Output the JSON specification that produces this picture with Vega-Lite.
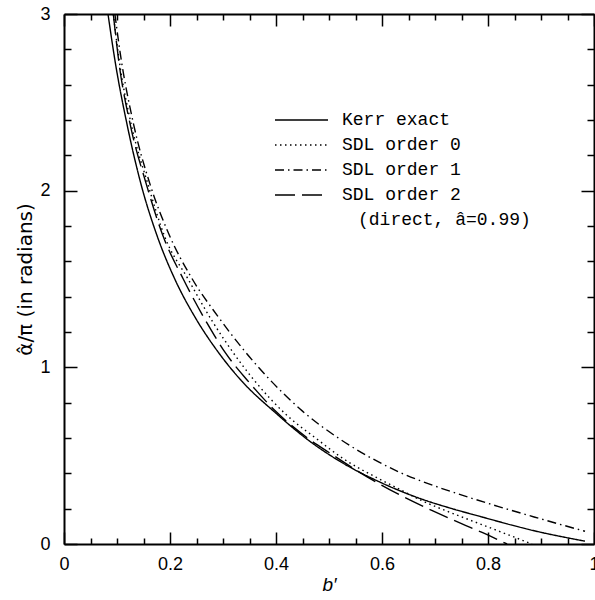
{
  "$schema": "https://vega.github.io/schema/vega-lite/v6.json",
  "width": 530,
  "height": 530,
  "autosize": {"type": "none"},
  "padding": {"left": 64, "top": 14, "right": 1, "bottom": 56},
  "background": "white",
  "config": {"view": {"stroke": null}, "font": "Liberation Sans"},
  "data": {
    "values": [
      {"series": "Kerr exact", "b": 0.083, "v": 3.0},
      {"series": "Kerr exact", "b": 0.096, "v": 2.74},
      {"series": "Kerr exact", "b": 0.12, "v": 2.36},
      {"series": "Kerr exact", "b": 0.145, "v": 2.04},
      {"series": "Kerr exact", "b": 0.175, "v": 1.75},
      {"series": "Kerr exact", "b": 0.209, "v": 1.5},
      {"series": "Kerr exact", "b": 0.25, "v": 1.27},
      {"series": "Kerr exact", "b": 0.29, "v": 1.09},
      {"series": "Kerr exact", "b": 0.333, "v": 0.93},
      {"series": "Kerr exact", "b": 0.4, "v": 0.74},
      {"series": "Kerr exact", "b": 0.46, "v": 0.59},
      {"series": "Kerr exact", "b": 0.521, "v": 0.467},
      {"series": "Kerr exact", "b": 0.6, "v": 0.345},
      {"series": "Kerr exact", "b": 0.677, "v": 0.252},
      {"series": "Kerr exact", "b": 0.73, "v": 0.202},
      {"series": "Kerr exact", "b": 0.785, "v": 0.156},
      {"series": "Kerr exact", "b": 0.887, "v": 0.075},
      {"series": "Kerr exact", "b": 0.983, "v": 0.016},
      {"series": "SDL order 0", "b": 0.093, "v": 3.0},
      {"series": "SDL order 0", "b": 0.104, "v": 2.74},
      {"series": "SDL order 0", "b": 0.128, "v": 2.36},
      {"series": "SDL order 0", "b": 0.158, "v": 2.04},
      {"series": "SDL order 0", "b": 0.19, "v": 1.74},
      {"series": "SDL order 0", "b": 0.234, "v": 1.5},
      {"series": "SDL order 0", "b": 0.28, "v": 1.26},
      {"series": "SDL order 0", "b": 0.32, "v": 1.08},
      {"series": "SDL order 0", "b": 0.358, "v": 0.93},
      {"series": "SDL order 0", "b": 0.42, "v": 0.73},
      {"series": "SDL order 0", "b": 0.479, "v": 0.59},
      {"series": "SDL order 0", "b": 0.521, "v": 0.495},
      {"series": "SDL order 0", "b": 0.6, "v": 0.36},
      {"series": "SDL order 0", "b": 0.638, "v": 0.302},
      {"series": "SDL order 0", "b": 0.672, "v": 0.25},
      {"series": "SDL order 0", "b": 0.73, "v": 0.177},
      {"series": "SDL order 0", "b": 0.79, "v": 0.108},
      {"series": "SDL order 0", "b": 0.84, "v": 0.05},
      {"series": "SDL order 0", "b": 0.883, "v": 0.0},
      {"series": "SDL order 1", "b": 0.096, "v": 3.0},
      {"series": "SDL order 1", "b": 0.106, "v": 2.78},
      {"series": "SDL order 1", "b": 0.131, "v": 2.38},
      {"series": "SDL order 1", "b": 0.163, "v": 2.03},
      {"series": "SDL order 1", "b": 0.197, "v": 1.76},
      {"series": "SDL order 1", "b": 0.242, "v": 1.5},
      {"series": "SDL order 1", "b": 0.29, "v": 1.29},
      {"series": "SDL order 1", "b": 0.34, "v": 1.095},
      {"series": "SDL order 1", "b": 0.39, "v": 0.925},
      {"series": "SDL order 1", "b": 0.45, "v": 0.752},
      {"series": "SDL order 1", "b": 0.521, "v": 0.593},
      {"series": "SDL order 1", "b": 0.58, "v": 0.486},
      {"series": "SDL order 1", "b": 0.634, "v": 0.405},
      {"series": "SDL order 1", "b": 0.7, "v": 0.328},
      {"series": "SDL order 1", "b": 0.762, "v": 0.266},
      {"series": "SDL order 1", "b": 0.82, "v": 0.212},
      {"series": "SDL order 1", "b": 0.887, "v": 0.153},
      {"series": "SDL order 1", "b": 0.983, "v": 0.072},
      {"series": "SDL order 2", "b": 0.093, "v": 3.0},
      {"series": "SDL order 2", "b": 0.103, "v": 2.74},
      {"series": "SDL order 2", "b": 0.126, "v": 2.36},
      {"series": "SDL order 2", "b": 0.155, "v": 2.04},
      {"series": "SDL order 2", "b": 0.186, "v": 1.75},
      {"series": "SDL order 2", "b": 0.225, "v": 1.5},
      {"series": "SDL order 2", "b": 0.27, "v": 1.25},
      {"series": "SDL order 2", "b": 0.305, "v": 1.08},
      {"series": "SDL order 2", "b": 0.345, "v": 0.93},
      {"series": "SDL order 2", "b": 0.4, "v": 0.75},
      {"series": "SDL order 2", "b": 0.464, "v": 0.59},
      {"series": "SDL order 2", "b": 0.5, "v": 0.518},
      {"series": "SDL order 2", "b": 0.572, "v": 0.38},
      {"series": "SDL order 2", "b": 0.634, "v": 0.277},
      {"series": "SDL order 2", "b": 0.696, "v": 0.187},
      {"series": "SDL order 2", "b": 0.75, "v": 0.115},
      {"series": "SDL order 2", "b": 0.79, "v": 0.064},
      {"series": "SDL order 2", "b": 0.836, "v": 0.0}
    ]
  },
  "layer": [
    {
      "mark": {"type": "line", "clip": true, "color": "black", "strokeWidth": 1.4, "interpolate": "monotone"},
      "encoding": {
        "x": {
          "field": "b", "type": "quantitative",
          "scale": {"domain": [0, 1], "nice": false, "zero": false},
          "axis": {
            "orient": "bottom",
            "values": [0, 0.05, 0.1, 0.15, 0.2, 0.25, 0.3, 0.35, 0.4, 0.45, 0.5, 0.55, 0.6, 0.65, 0.7, 0.75, 0.8, 0.85, 0.9, 0.95, 1],
            "labelExpr": "abs(datum.value*5-round(datum.value*5))<1e-6 ? format(datum.value,'~g') : ''",
            "tickSize": {"condition": {"test": "abs(datum.value*5-round(datum.value*5))<1e-6", "value": -12}, "value": -6},
            "tickWidth": 1.5, "tickColor": "black",
            "domainColor": "black", "domainWidth": 2,
            "labelFontSize": 18, "labelColor": "black", "labelPadding": 23,
            "labelFlush": false, "labelOverlap": false, "grid": false,
            "title": "b′", "titleFontSize": 19, "titleFontStyle": "italic", "titleFontWeight": "normal",
            "titleColor": "black", "titlePadding": -4
          }
        },
        "y": {
          "field": "v", "type": "quantitative",
          "scale": {"domain": [0, 3], "nice": false, "zero": false},
          "axis": {
            "orient": "left",
            "values": [0, 0.2, 0.4, 0.6, 0.8, 1, 1.2, 1.4, 1.6, 1.8, 2, 2.2, 2.4, 2.6, 2.8, 3],
            "labelExpr": "abs(datum.value-round(datum.value))<1e-6 ? format(datum.value,'~g') : ''",
            "tickSize": {"condition": {"test": "abs(datum.value-round(datum.value))<1e-6", "value": -13}, "value": -7},
            "tickWidth": 1.5, "tickColor": "black",
            "domainColor": "black", "domainWidth": 2,
            "labelFontSize": 18, "labelColor": "black", "labelPadding": 27,
            "labelFlush": false, "labelOverlap": false, "grid": false,
            "title": "α̂/π  (in radians)", "titleFont": "DejaVu Sans", "titleFontSize": 20, "titleFontWeight": "normal",
            "titleColor": "black", "titlePadding": 4
          }
        },
        "strokeDash": {
          "field": "series", "type": "nominal",
          "scale": {
            "domain": ["Kerr exact", "SDL order 0", "SDL order 1", "SDL order 2", "(direct, â=0.99)"],
            "range": [[1, 0], [1.5, 3.5], [9, 4, 1.5, 4], [20, 7], [0, 1000]]
          },
          "legend": {
            "orient": "none", "legendX": 210, "legendY": 96,
            "title": null, "padding": 0,
            "symbolType": "stroke", "symbolSize": 2809, "symbolStrokeWidth": 1.4,
            "symbolStrokeColor": "black", "clipHeight": 20, "rowPadding": 5,
            "labelOffset": 13, "labelFont": "Liberation Mono", "labelFontSize": 18,
            "labelColor": "black", "labelLimit": 400, "labelBaseline": "middle",
            "encode": {"labels": {"update": {"dx": {"signal": "datum.index == 4 ? 16 : 0"}}}}
          }
        }
      }
    },
    {
      "mark": {"type": "point", "opacity": 0},
      "encoding": {
        "x": {
          "field": "b", "type": "quantitative",
          "axis": {
            "orient": "top",
            "values": [0, 0.05, 0.1, 0.15, 0.2, 0.25, 0.3, 0.35, 0.4, 0.45, 0.5, 0.55, 0.6, 0.65, 0.7, 0.75, 0.8, 0.85, 0.9, 0.95, 1],
            "labels": false, "title": null, "grid": false,
            "tickSize": {"condition": {"test": "abs(datum.value*5-round(datum.value*5))<1e-6", "value": -12}, "value": -6},
            "tickWidth": 1.5, "tickColor": "black", "domainColor": "black", "domainWidth": 2
          }
        },
        "y": {
          "field": "v", "type": "quantitative",
          "axis": {
            "orient": "right",
            "values": [0, 0.2, 0.4, 0.6, 0.8, 1, 1.2, 1.4, 1.6, 1.8, 2, 2.2, 2.4, 2.6, 2.8, 3],
            "labels": false, "title": null, "grid": false,
            "tickSize": {"condition": {"test": "abs(datum.value-round(datum.value))<1e-6", "value": -13}, "value": -7},
            "tickWidth": 1.5, "tickColor": "black", "domainColor": "black", "domainWidth": 2
          }
        }
      }
    }
  ],
  "resolve": {"axis": {"x": "independent", "y": "independent"}}
}
